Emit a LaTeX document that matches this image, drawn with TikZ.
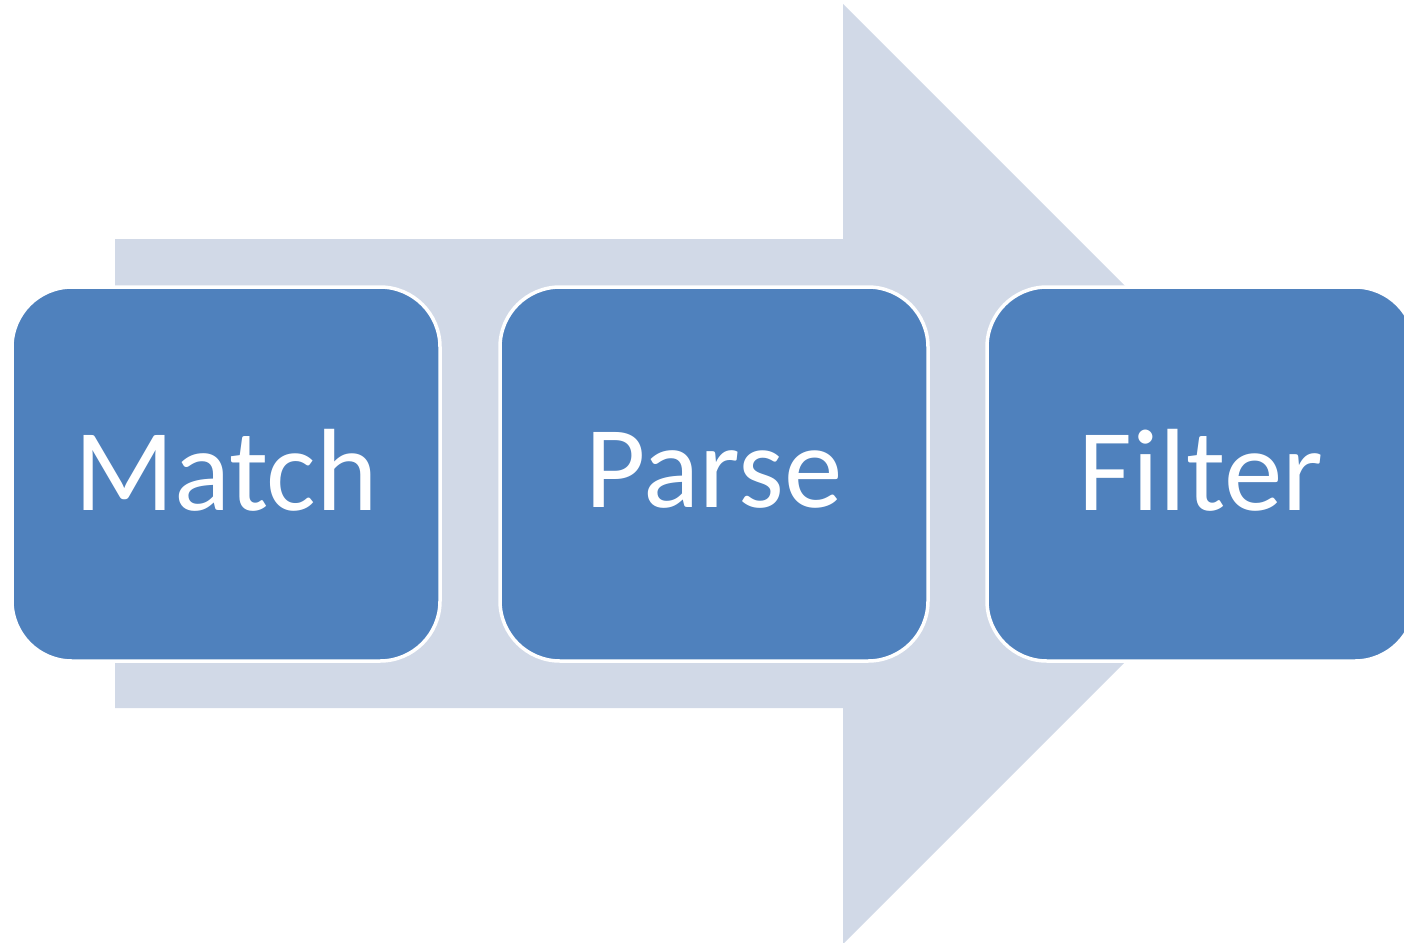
\documentclass[tikz,border=0pt]{standalone}
\usepackage{fontspec}
\setmainfont{Carlito}
\definecolor{arrowfill}{HTML}{D1D9E7}
\definecolor{boxfill}{HTML}{4F81BD}
\newcommand{\stagetext}[1]{\raisebox{9pt}{#1}}
\begin{document}
\begin{tikzpicture}[x=1pt,y=-1pt,
  stage/.style={rectangle, rounded corners=60pt, fill=boxfill, draw=white,
    line width=3.5pt, minimum width=428pt, minimum height=374pt,
    text=white, font=\fontsize{117}{140}\selectfont, inner sep=0pt}]
  \useasboundingbox (0,0) rectangle (1404,942);
  \clip (0,0) rectangle (1404,942);
  % background block arrow
  \fill[arrowfill] (115,239) -- (843,239) -- (843,4) -- (1313,474)
    -- (843,944) -- (843,708) -- (115,708) -- cycle;
  % process stages
  \node[stage] (match) at (226,474) {\stagetext{Match}};
  \node[stage] (parse) at (714,474) {\stagetext{Parse}};
  \node[stage] (filter) at (1201,474) {\stagetext{Filter}};
\end{tikzpicture}
\end{document}
